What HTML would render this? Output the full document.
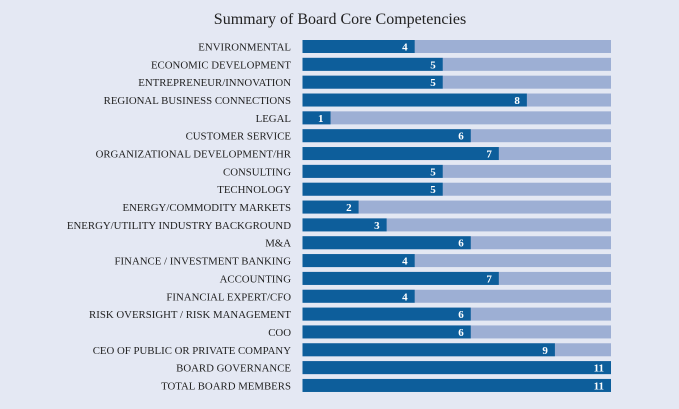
<!DOCTYPE html>
<html><head><meta charset="utf-8"><style>
html,body{margin:0;padding:0;background:#e4e8f3;}
svg{display:block;font-family:"Liberation Serif",serif;}
</style></head><body>
<svg width="679" height="409">
<rect width="679" height="409" fill="#e4e8f3"/>
<text x="340" y="24" text-anchor="middle" font-size="16" fill="#222">Summary of Board Core Competencies</text>
<g id="bars"></g>
</svg>
<script>
const categories=["ENVIRONMENTAL","ECONOMIC DEVELOPMENT","ENTREPRENEUR/INNOVATION","REGIONAL BUSINESS CONNECTIONS","LEGAL","CUSTOMER SERVICE","ORGANIZATIONAL DEVELOPMENT/HR","CONSULTING","TECHNOLOGY","ENERGY/COMMODITY MARKETS","ENERGY/UTILITY INDUSTRY BACKGROUND","M&A","FINANCE / INVESTMENT BANKING","ACCOUNTING","FINANCIAL EXPERT/CFO","RISK OVERSIGHT / RISK MANAGEMENT","COO","CEO OF PUBLIC OR PRIVATE COMPANY","BOARD GOVERNANCE","TOTAL BOARD MEMBERS"];
const values=[4,5,5,8,1,6,7,5,5,2,3,6,4,7,4,6,6,9,11,11];
const maxValue=11;
const x0=302.5,x1=611,top0=40,step=17.84,bh=13;
const xs=v=>x0+(x1-x0)*v/maxValue;
const g=document.getElementById('bars');
const NS='http://www.w3.org/2000/svg';
categories.forEach((c,i)=>{
  const y=top0+i*step;
  const bg=document.createElementNS(NS,'rect');
  bg.setAttribute('x',x0);bg.setAttribute('y',y);bg.setAttribute('width',x1-x0);bg.setAttribute('height',bh);bg.setAttribute('fill','#9dafd4');
  
  
  g.appendChild(bg);
  const r=document.createElementNS(NS,'rect');
  r.setAttribute('x',x0);r.setAttribute('y',y);r.setAttribute('width',xs(values[i])-x0);r.setAttribute('height',bh);r.setAttribute('fill','#0d5e9b');
  
  
  g.appendChild(r);
  const v=document.createElementNS(NS,'text');
  v.setAttribute('x',xs(values[i])-7);v.setAttribute('y',y+10.5);v.setAttribute('text-anchor','end');v.setAttribute('font-size','11');v.setAttribute('font-weight','bold');v.setAttribute('fill','#fff');
  v.textContent=values[i];
  
  
  g.appendChild(v);
  const t=document.createElementNS(NS,'text');
  t.setAttribute('x',291);t.setAttribute('y',y+10.5);t.setAttribute('text-anchor','end');t.setAttribute('font-size','10.8');t.setAttribute('fill','#222');
  t.textContent=c;
  
  
  g.appendChild(t);
});
</script>
</body></html>
